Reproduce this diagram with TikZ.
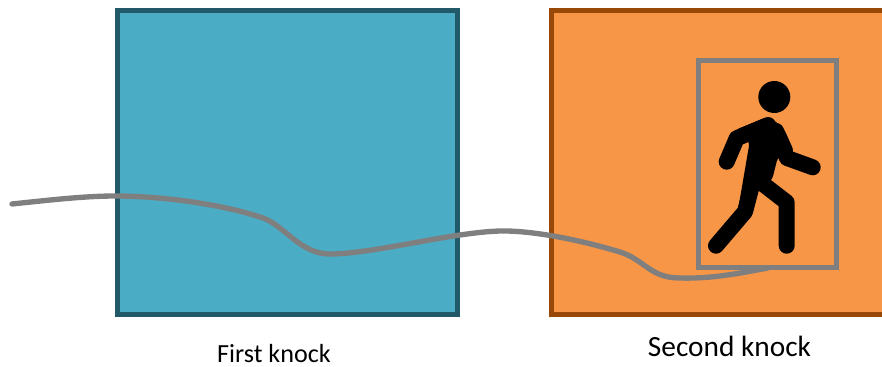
\documentclass[tikz,border=0pt]{standalone}
\usepackage{fontspec}
\setmainfont{Carlito}
\definecolor{knockblue}{HTML}{4BACC6}
\definecolor{knockblueline}{HTML}{215968}
\definecolor{knockorange}{HTML}{F79646}
\definecolor{knockorangeline}{HTML}{984807}
\definecolor{trackgray}{HTML}{7F7F7F}
\tikzset{every picture/.style={line width=0.75pt}}
\tikzset{
  roombox/.style={line width=4pt,miter limit=10},
  trackline/.style={draw=trackgray,line width=4pt,line cap=round},
  limbline/.style={draw=black,line width=12pt,line cap=round,line join=round},
  knocklabel/.style={inner sep=0pt,anchor=base,text=black}
}

\begin{document}
\begin{tikzpicture}[x=0.75pt,y=0.75pt,yscale=-1,xscale=1]
\useasboundingbox (0,0) rectangle (882,367);

%Shape: Rectangle [first room]
\draw [roombox,draw=knockblueline,fill=knockblue] (117.3,10.2) rectangle (457.5,314.5);
%Shape: Rectangle [second room]
\draw [roombox,draw=knockorangeline,fill=knockorange] (551.5,10.2) rectangle (895,314.5);

%Person
\fill (774.3,97) circle [radius=16];
\fill [rounded corners=5pt] (733.3,130.7) -- (768.3,116.7) -- (783.3,127.3) -- (795,153.3) -- (778.3,155) -- (771.7,181.7) -- (756.7,190) -- (751.7,213.3) -- (738.3,208.3) -- (750,140) -- cycle;
\draw [limbline] (726.7,161.7) -- (736.7,138.3) -- (768,125);
\draw [limbline] (812.7,167.3) -- (787,158) -- (776,131);
\draw [limbline] (716,245.7) -- (745,211.7) -- (752,185);
\draw [limbline] (786.7,245.7) -- (786.7,202.3) -- (763,184);

%Shape: Rectangle [frame]
\draw [draw=trackgray,line width=4.2pt] (698.5,60.5) rectangle (836.5,267.5);

%Curve Lines [track]
\draw [trackline] (12,204) .. controls (50,200) and (85,196) .. (115,196)
  .. controls (165,196) and (225,205) .. (263,218)
  .. controls (285,226) and (300,254) .. (330,254)
  .. controls (375,254) and (460,230) .. (507,231)
  .. controls (545,232) and (590,243) .. (620,252)
  .. controls (645,260) and (650,278) .. (680,278)
  .. controls (715,279) and (745,272) .. (768,268);

% Text Node
\node [knocklabel,font=\fontsize{19.6pt}{22pt}\selectfont] (firstLabel) at (274,362.5) {First knock};
% Text Node
\node [knocklabel,font=\fontsize{22pt}{25pt}\selectfont] (secondLabel) at (729.5,356.5) {Second knock};

\end{tikzpicture}
\end{document}
